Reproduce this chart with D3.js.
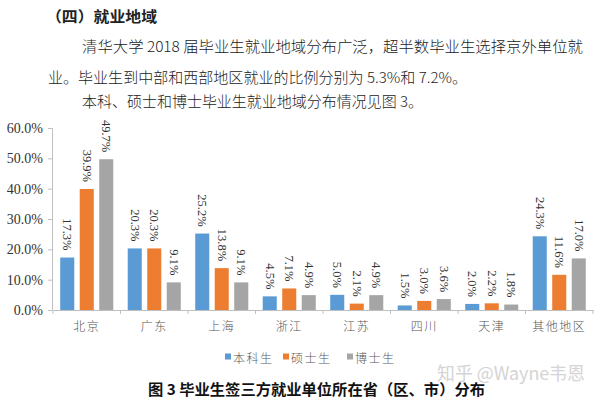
<!DOCTYPE html>
<html>
<head>
<meta charset="utf-8">
<script src="https://cdn.jsdelivr.net/npm/d3@7"></script>
<style>
  html, body { margin: 0; padding: 0; background: #fff; }
  svg { display: block; }
</style>
</head>
<body>
<svg id="chart" width="601" height="400"></svg>
<script>
// chart data
const categories = ['北京', '广东', '上海', '浙江', '江苏', '四川', '天津', '其他地区'];
const seriesNames = ['本科生', '硕士生', '博士生'];
const undergrad = [17.3, 20.3, 25.2, 4.5, 5.0, 1.5, 2.0, 24.3];
const master = [39.9, 20.3, 13.8, 7.1, 2.1, 3.0, 2.2, 11.6];
const doctor = [49.7, 9.1, 9.1, 4.9, 4.9, 3.6, 1.8, 17.0];
const yTicks = [0, 10, 20, 30, 40, 50, 60];
const colors = ['#5b9bd5', '#ed7d31', '#a5a5a5'];

const serif = '"Liberation Serif", "Times New Roman", serif';
const cjk = '"Noto Sans CJK SC", "Noto Sans", sans-serif';

const svg = d3.select('#chart');

/* text above the chart */
const para = [
  { t: '（四）就业地域', x: 46, y: 15, len: 111, bold: true },
  { t: '清华大学 2018 届毕业生就业地域分布广泛，超半数毕业生选择京外单位就', x: 82, y: 45, len: 501 },
  { t: '业。毕业生到中部和西部地区就业的比例分别为 5.3%和 7.2%。', x: 48, y: 76, len: 419 },
  { t: '本科、硕士和博士毕业生就业地域分布情况见图 3。', x: 82, y: 100, len: 341 }
];
svg.selectAll('.para')
  .data(para)
  .enter().append('text')
  .attr('class', 'para')
  .attr('x', d => d.x)
  .attr('y', d => d.y)
  .attr('dominant-baseline', 'central')
  .attr('textLength', d => d.len)
  .attr('lengthAdjust', 'spacingAndGlyphs')
  .style('font-family', cjk)
  .style('font-size', '15px')
  .style('font-weight', d => d.bold ? 700 : 300)
  .style('fill', '#222')
  .text(d => d.t);

/* scales */
const x = d3.scaleBand()
  .domain(categories)
  .range([53, 593]);

const x1 = d3.scaleBand()
  .domain(seriesNames)
  .range([0, x.bandwidth()])
  .paddingInner(0.28)
  .paddingOuter(0.37);

const y = d3.scaleLinear()
  .domain([0, 60])
  .range([310, 128]);

const data = categories.map((c, i) => ({
  cat: c,
  vals: [undergrad[i], master[i], doctor[i]].map((v, j) => ({ name: seriesNames[j], v: v, c: colors[j] }))
}));

/* y axis */
const yAxisG = svg.append('g')
  .attr('transform', 'translate(52,0)')
  .call(d3.axisLeft(y).tickValues(yTicks).tickFormat(d => d.toFixed(1) + '%').tickSize(4).tickPadding(5));
yAxisG.select('.domain').attr('stroke', '#bfbfbf');
yAxisG.selectAll('.tick line').attr('stroke', '#bfbfbf');
yAxisG.selectAll('text')
  .style('font-family', serif)
  .style('font-size', '14px')
  .style('fill', '#333');

/* bars */
const groups = svg.selectAll('.grp')
  .data(data)
  .enter().append('g')
  .attr('class', 'grp')
  .attr('transform', d => `translate(${x(d.cat)},0)`);

groups.selectAll('rect')
  .data(d => d.vals)
  .enter().append('rect')
  .attr('x', d => x1(d.name))
  .attr('y', d => y(d.v))
  .attr('width', x1.bandwidth())
  .attr('height', d => y(0) - y(d.v))
  .attr('fill', d => d.c);

// rotated value labels
groups.selectAll('.lbl')
  .data(d => d.vals)
  .enter().append('text')
  .attr('class', 'lbl')
  .attr('transform', d => `translate(${x1(d.name) + x1.bandwidth() / 2},${y(d.v) - 7}) rotate(90)`)
  .attr('text-anchor', 'end')
  .attr('dominant-baseline', 'central')
  .style('font-family', serif)
  .style('font-size', '12.5px')
  .style('fill', '#333')
  .text(d => d.v.toFixed(1) + '%');

/* x axis */
const xAxisG = svg.append('g')
  .attr('transform', `translate(0,${y(0)})`)
  .call(d3.axisBottom(x).tickSize(0).tickPadding(12));
xAxisG.select('.domain').attr('stroke', '#bfbfbf');
xAxisG.selectAll('text')
  .style('font-family', cjk)
  .style('font-size', '12px')
  .style('font-weight', 300)
  .style('letter-spacing', '1.5px')
  .style('fill', '#555');

// small ticks on category boundaries
xAxisG.selectAll('.bound')
  .data(d3.range(categories.length + 1))
  .enter().append('line')
  .attr('class', 'bound')
  .attr('x1', i => x.range()[0] + i * x.step())
  .attr('x2', i => x.range()[0] + i * x.step())
  .attr('y1', 0)
  .attr('y2', 4)
  .attr('stroke', '#bfbfbf');

/* legend */
const legendX = [225, 283, 347];
const legend = svg.selectAll('.leg')
  .data(seriesNames)
  .enter().append('g')
  .attr('class', 'leg')
  .attr('transform', (d, i) => `translate(${legendX[i]},357)`);
legend.append('rect')
  .attr('x', 0).attr('y', -3.5)
  .attr('width', 6).attr('height', 6)
  .attr('fill', (d, i) => colors[i]);
legend.append('text')
  .attr('x', 8)
  .attr('dominant-baseline', 'central')
  .style('font-family', cjk)
  .style('font-size', '12px')
  .style('font-weight', 300)
  .style('letter-spacing', '1.5px')
  .style('fill', '#595959')
  .text(d => d);

/* watermark and caption */
svg.append('text')
  .attr('x', 437).attr('y', 372)
  .attr('dominant-baseline', 'central')
  .attr('textLength', 148)
  .attr('lengthAdjust', 'spacingAndGlyphs')
  .style('font-family', cjk)
  .style('font-size', '18px')
  .style('fill', '#d4d4d4')
  .text('知乎 @Wayne韦恩');

svg.append('text')
  .attr('x', 148).attr('y', 388)
  .attr('dominant-baseline', 'central')
  .attr('textLength', 337)
  .attr('lengthAdjust', 'spacingAndGlyphs')
  .style('font-family', cjk)
  .style('font-size', '15px')
  .style('font-weight', 700)
  .style('fill', '#111')
  .text('图 3 毕业生签三方就业单位所在省（区、市）分布');
</script>
</body>
</html>
